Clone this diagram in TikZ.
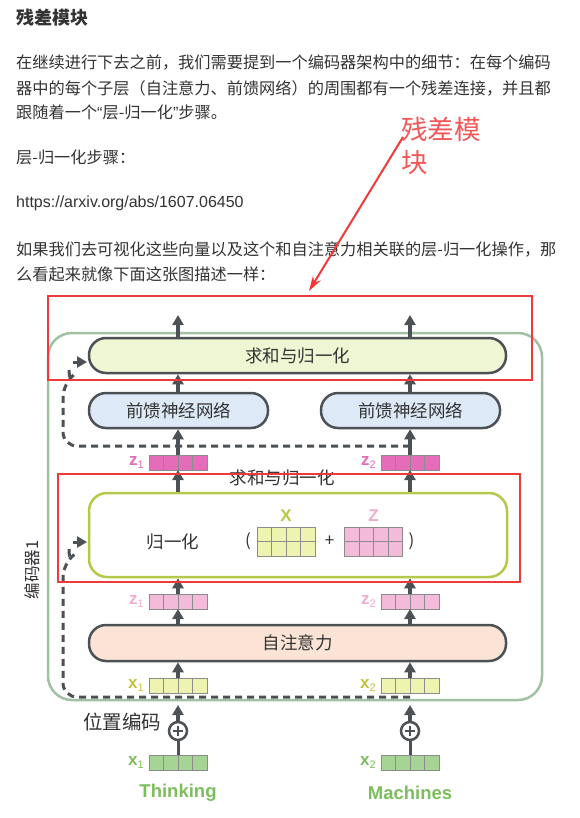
\documentclass[tikz,border=0pt]{standalone}
\usepackage{fontspec}
\setmainfont{Noto Sans CJK SC}
\newfontfamily\arialfont{Liberation Sans}
\usetikzlibrary{arrows.meta,positioning}

\definecolor{txtgray}{HTML}{333333}
\definecolor{linegray}{HTML}{4C5156}
\definecolor{cellgray}{HTML}{8C8C8C}
\definecolor{encgreen}{HTML}{A2C1A2}
\definecolor{sumfill}{HTML}{EEF6D4}
\definecolor{ffnfill}{HTML}{DDE9F6}
\definecolor{safill}{HTML}{FBE4D5}
\definecolor{normgreen}{HTML}{B4C84A}
\definecolor{zdark}{HTML}{E46CB8}
\definecolor{zlight}{HTML}{F3BADA}
\definecolor{zlabel}{HTML}{F0ACD0}
\definecolor{xlight}{HTML}{EEF4B0}
\definecolor{xlabel}{HTML}{C4C43C}
\definecolor{embgreen}{HTML}{A6D494}
\definecolor{wordgreen}{HTML}{7CBD5C}
\definecolor{markred}{HTML}{F03A3A}

\begin{document}
\begin{tikzpicture}[x=1pt, y=-1pt,
    para/.style={text=txtgray, inner sep=0pt, anchor=west, font=\fontsize{16.2}{20}\selectfont},
    layer/.style={draw=linegray, line width=2.5pt, rounded corners=17pt, minimum height=35pt,
        inner sep=0pt, text=txtgray, font=\fontsize{17.5}{21}\selectfont},
    flow/.style={draw=linegray, line width=3.5pt, -{Triangle[length=10pt,width=11pt]}},
    resid/.style={draw=linegray, line width=3pt, dash pattern=on 7pt off 5pt, rounded corners=14pt},
    vec4/.style={draw=cellgray, line width=0.8pt, minimum width=58pt, minimum height=15pt,
        inner sep=0pt, outer sep=0pt,
        path picture={\foreach \k in {1,2,3}
            \draw[cellgray, line width=0.8pt] ([xshift=\k*14.5pt]path picture bounding box.south west)
                -- ([xshift=\k*14.5pt]path picture bounding box.north west);}},
    mat42/.style={vec4, minimum height=29pt},
    vlabel/.style={inner sep=0pt, font=\fontsize{17}{20}\selectfont\arialfont\bfseries},
    plusnode/.style={circle, draw=linegray, line width=2.5pt, fill=white, minimum size=18pt, inner sep=0pt,
        path picture={\draw[linegray, line width=2pt]
            ([xshift=-5pt]path picture bounding box.center) -- ([xshift=5pt]path picture bounding box.center)
            ([yshift=-5pt]path picture bounding box.center) -- ([yshift=5pt]path picture bounding box.center);}},
    redbox/.style={draw=markred, line width=2.5pt}]

    % Page
    \fill[white] (0,0) rectangle (580,818);
    \useasboundingbox (0,0) rectangle (580,818);

    % Text above the figure
    \node[para, font=\fontsize{18}{22}\selectfont\bfseries] (head) at (16,18) {残差模块};
    \node[para] (p1) at (16,63) {在继续进行下去之前，我们需要提到一个编码器架构中的细节：在每个编码};
    \node[para] (p2) at (16,88) {器中的每个子层（自注意力、前馈网络）的周围都有一个残差连接，并且都};
    \node[para] (p3) at (16,112) {跟随着一个{\arialfont “}层-归一化{\arialfont ”}步骤。};
    \node[para] (p4) at (16,157) {层-归一化步骤：};
    \node[para, font=\fontsize{16}{20}\selectfont\arialfont] (url) at (16,203) {https://arxiv.org/abs/1607.06450};
    \node[para] (p5) at (16,249) {如果我们去可视化这些向量以及这个和自注意力相关联的层-归一化操作，那};
    \node[para] (p6) at (16,274) {么看起来就像下面这张图描述一样：};

    % Encoder frame
    \draw[encgreen, line width=2.5pt, rounded corners=24pt] (48,333) rectangle (542,700);
    \node[rotate=90, text=txtgray, font=\fontsize{16.5}{20}\selectfont] (enc) at (32,570) {编码器1};

    % Add & Normalize (top)
    \node[layer, fill=sumfill, minimum width=417pt] (sum) at (297.5,355.5) {求和与归一化};
    \coordinate (outL) at (178,315);
    \coordinate (outR) at (410,315);
    \draw[flow] (sum.north -| outL) -- (outL);
    \draw[flow] (sum.north -| outR) -- (outR);

    % Feed forward
    \node[layer, fill=ffnfill, minimum width=179pt] (ffnL) at (178.5,410.5) {前馈神经网络};
    \node[layer, fill=ffnfill, minimum width=179pt] (ffnR) at (410.5,410.5) {前馈神经网络};

    % z vectors after normalisation
    \node[vec4, fill=zdark] (zU1) at (178,462.5) {};
    \node[vec4, fill=zdark] (zU2) at (410,462.5) {};
    \node[vlabel, text=zdark, left=5pt of zU1] (zU1l) {z{\fontsize{11}{11}\mdseries\raisebox{-3pt}{1}}};
    \node[vlabel, text=zdark, left=5pt of zU2] (zU2l) {z{\fontsize{11}{11}\mdseries\raisebox{-3pt}{2}}};

    % Residual around feed forward
    \coordinate (res1) at (410,446);
    \coordinate (res1a) at (69,369);
    \coordinate (res1b) at (73,362);
    \coordinate (res1in) at (87,362);
    \draw[resid] (res1) -- (63,446) -- (63,383) to[bend right=30] (res1a);
    \draw[flow, line width=3pt] (res1b) -- (res1in);

    \draw[flow] (zU1.north) -- (zU1.north |- ffnL.south);
    \draw[flow] (zU2.north) -- (zU2.north |- ffnR.south);
    \draw[flow] (ffnL.north -| zU1) -- (sum.south -| zU1);
    \draw[flow] (ffnR.north -| zU2) -- (sum.south -| zU2);

    \node[text=txtgray, inner sep=0pt, font=\fontsize{17.5}{21}\selectfont] (sumlbl) at (282,478) {求和与归一化};

    % Normalize box
    \node[draw=normgreen, line width=2.5pt, rounded corners=18pt, minimum width=418pt, minimum height=84pt,
        fill=white] (norm) at (298,535) {};
    \node[text=txtgray, inner sep=0pt, font=\fontsize{17.5}{21}\selectfont] (normtxt) at (173,542) {归一化};
    \node[mat42, fill=xlight] (Xmat) at (286,541.5) {};
    \node[mat42, fill=zlight] (Zmat) at (373.5,541.5) {};
    \draw[cellgray, line width=0.8pt] (Xmat.west) -- (Xmat.east);
    \draw[cellgray, line width=0.8pt] (Zmat.west) -- (Zmat.east);
    \node[vlabel, text=normgreen, above=5pt of Xmat] (Xlbl) {X};
    \node[vlabel, text=zlabel, above=5pt of Zmat] (Zlbl) {Z};
    \node[text=txtgray, font=\fontsize{17}{20}\selectfont, left=6pt of Xmat, inner sep=0pt] (lpar) {(};
    \node[text=txtgray, font=\fontsize{17}{20}\selectfont, inner sep=0pt] (plus) at (329.5,541.5) {+};
    \node[text=txtgray, font=\fontsize{17}{20}\selectfont, right=6pt of Zmat, inner sep=0pt] (rpar) {)};

    \draw[flow] (norm.north -| zU1) -- (zU1.south);
    \draw[flow] (norm.north -| zU2) -- (zU2.south);

    % z vectors from self-attention
    \node[vec4, fill=zlight] (zL1) at (178,601.5) {};
    \node[vec4, fill=zlight] (zL2) at (410,601.5) {};
    \node[vlabel, text=zlabel, left=5pt of zL1] (zL1l) {z{\fontsize{11}{11}\mdseries\raisebox{-3pt}{1}}};
    \node[vlabel, text=zlabel, left=5pt of zL2] (zL2l) {z{\fontsize{11}{11}\mdseries\raisebox{-3pt}{2}}};
    \draw[flow] (zL1.north) -- (zL1.north |- norm.south);
    \draw[flow] (zL2.north) -- (zL2.north |- norm.south);

    % Self-attention
    \node[layer, fill=safill, minimum width=417pt, minimum height=36pt] (sa) at (297.5,643) {自注意力};
    \draw[flow] (sa.north -| zL1) -- (zL1.south);
    \draw[flow] (sa.north -| zL2) -- (zL2.south);

    % Inputs with position encoding
    \node[vec4, fill=xlight] (xA1) at (178,685.5) {};
    \node[vec4, fill=xlight] (xA2) at (410,685.5) {};
    \node[vlabel, text=xlabel, left=5pt of xA1] (xA1l) {x{\fontsize{11}{11}\mdseries\raisebox{-3pt}{1}}};
    \node[vlabel, text=xlabel, left=5pt of xA2] (xA2l) {x{\fontsize{11}{11}\mdseries\raisebox{-3pt}{2}}};
    \draw[flow] (xA1.north) -- (xA1.north |- sa.south);
    \draw[flow] (xA2.north) -- (xA2.north |- sa.south);

    % Residual around self-attention
    \coordinate (res2) at (410,697);
    \coordinate (res2a) at (69,549);
    \coordinate (res2b) at (73,542);
    \coordinate (res2in) at (87,542);
    \draw[resid] (res2) -- (63,697) -- (63,563) to[bend right=30] (res2a);
    \draw[flow, line width=3pt] (res2b) -- (res2in);

    \node[plusnode] (pe1) at (178,731) {};
    \node[plusnode] (pe2) at (410,731) {};
    \coordinate (inA1) at (178,705);
    \coordinate (inA2) at (410,705);
    \draw[flow] (pe1.north) -- (inA1);
    \draw[flow] (pe2.north) -- (inA2);
    \node[text=txtgray, inner sep=0pt, font=\fontsize{19.5}{23}\selectfont] (poslbl) at (122,722) {位置编码};

    % Embeddings
    \node[vec4, fill=embgreen] (emb1) at (178,762.5) {};
    \node[vec4, fill=embgreen] (emb2) at (410,762.5) {};
    \node[vlabel, text=wordgreen, left=5pt of emb1] (emb1l) {x{\fontsize{11}{11}\mdseries\raisebox{-3pt}{1}}};
    \node[vlabel, text=wordgreen, left=5pt of emb2] (emb2l) {x{\fontsize{11}{11}\mdseries\raisebox{-3pt}{2}}};
    \draw[linegray, line width=3pt] (emb1.north) -- (pe1.south);
    \draw[linegray, line width=3pt] (emb2.north) -- (pe2.south);
    \node[text=wordgreen, inner sep=0pt, font=\fontsize{18.5}{22}\selectfont\arialfont\bfseries] (w1) at (178,793) {Thinking};
    \node[text=wordgreen, inner sep=0pt, font=\fontsize{18.5}{22}\selectfont\arialfont\bfseries] (w2) at (410,793) {Machines};

    % Red marks
    \draw[redbox] (48,296) rectangle (532,380);
    \draw[redbox] (58,474) rectangle (520,582);
    \node[text=markred!85!white, anchor=north west, align=left, inner sep=0pt,
        font=\fontsize{26.5}{33}\selectfont] (anno) at (401,117) {残差模\\块};
    \coordinate (annoTail) at (403,137);
    \coordinate (annoTip) at (309,291);
    \draw[markred, line width=2pt, -{Stealth[length=15pt,width=9pt]}] (annoTail) -- (annoTip);
\end{tikzpicture}
\end{document}
